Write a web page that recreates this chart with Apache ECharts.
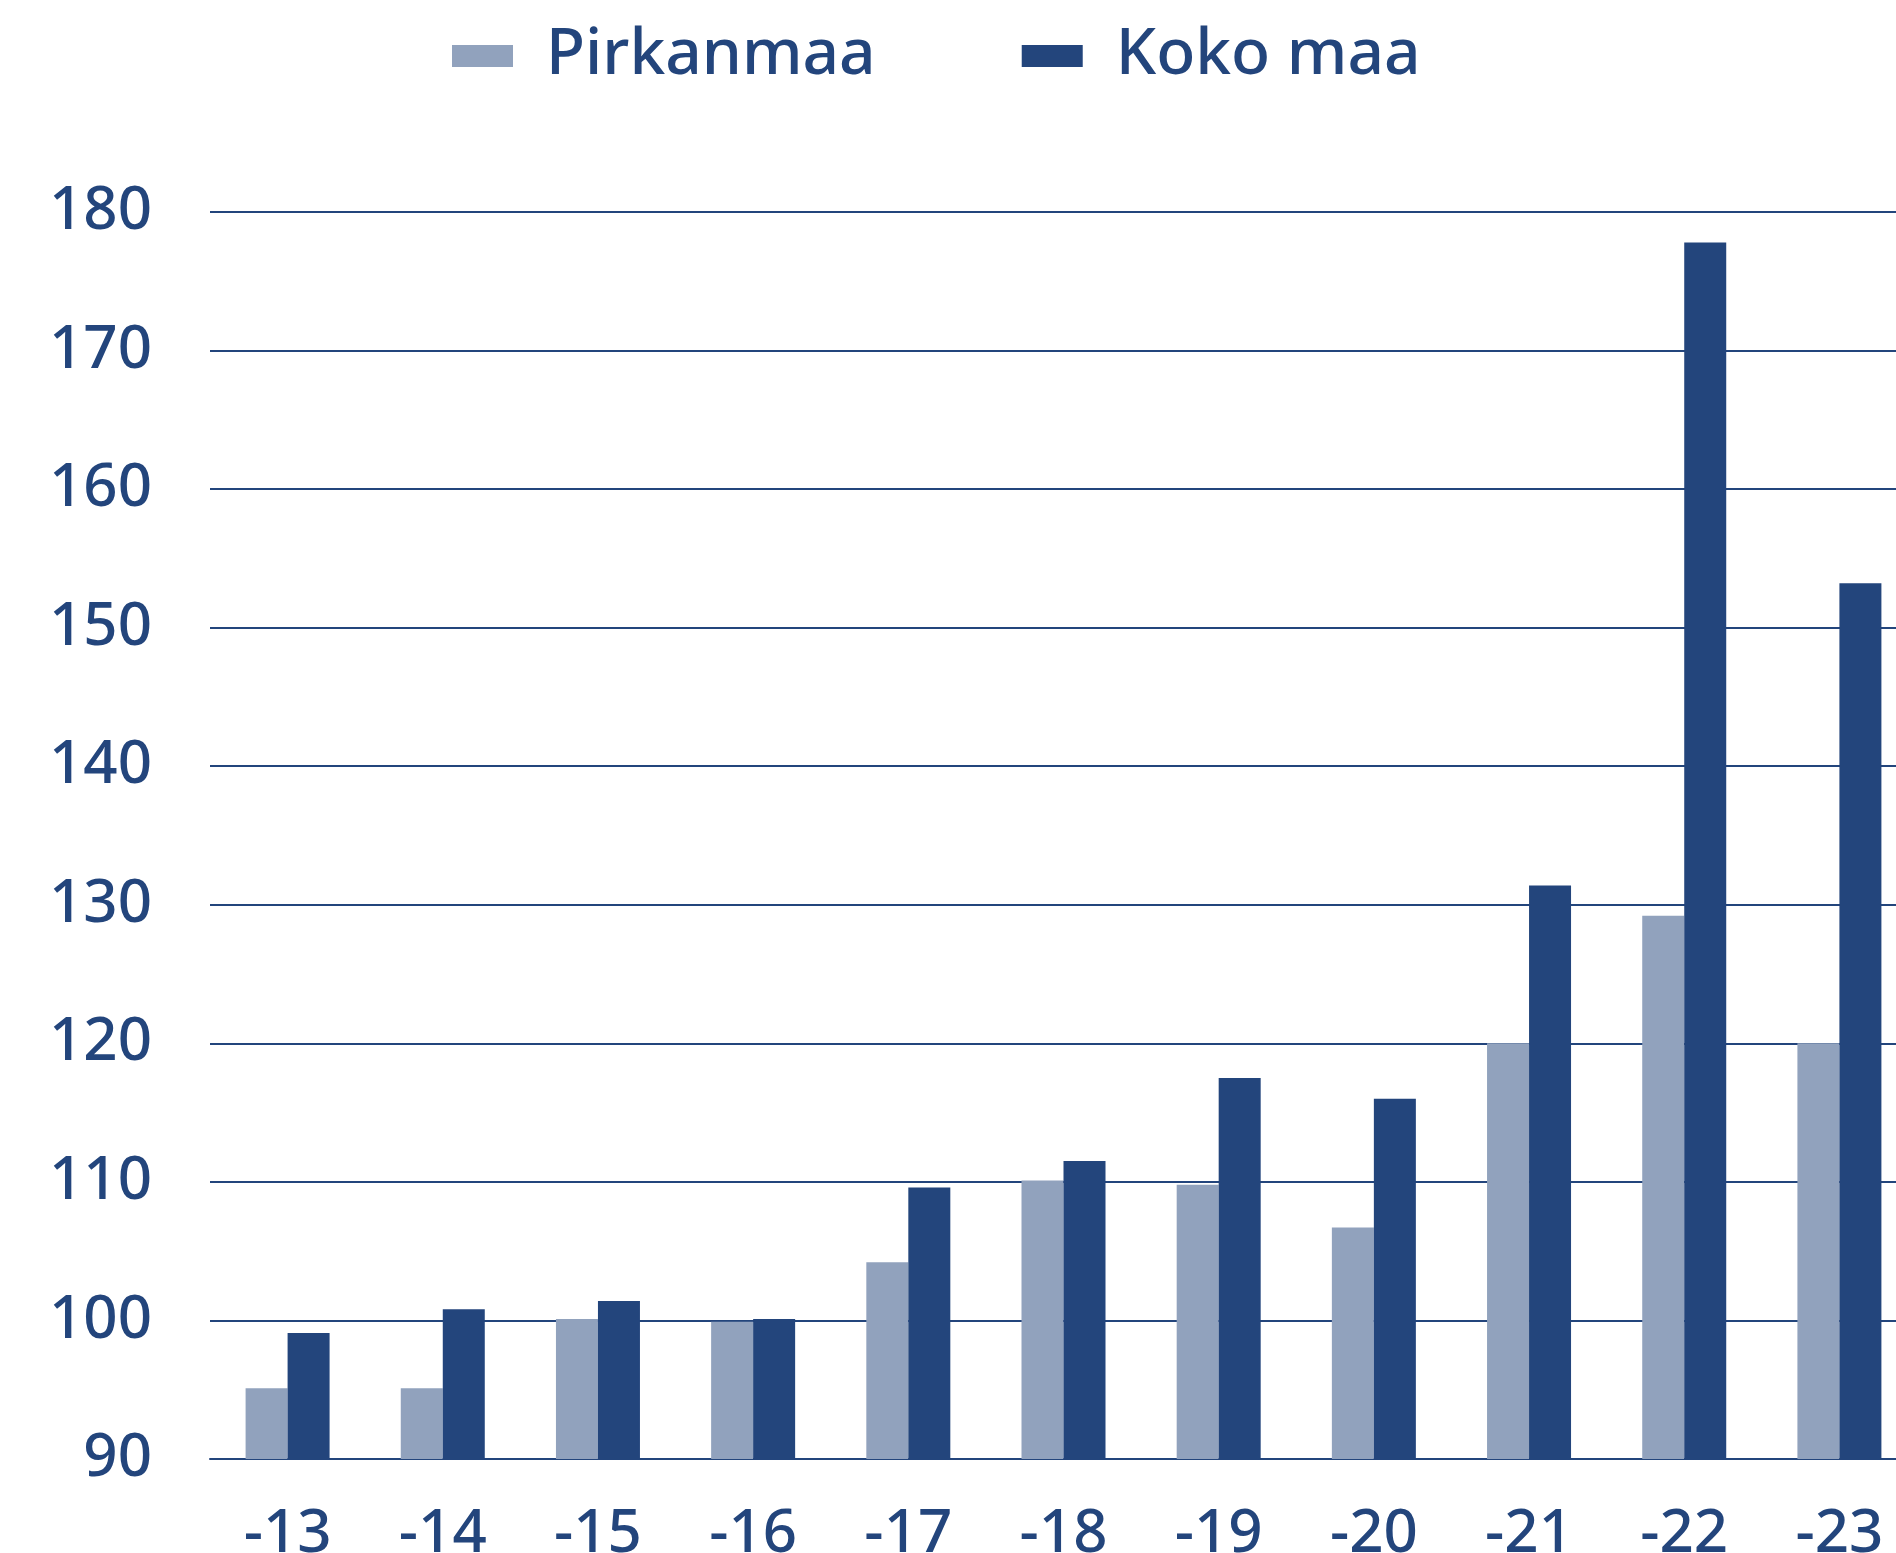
<!DOCTYPE html>
<html>
<head>
<meta charset="utf-8">
<script src="https://cdn.jsdelivr.net/npm/echarts@6/dist/echarts.min.js"></script>
<style>
html,body{margin:0;padding:0;background:#fff;}
#chart{width:1896px;height:1553px;}
</style>
</head>
<body>
<div id="chart"></div>
<script>
const categories = ['-13','-14','-15','-16','-17','-18','-19','-20','-21','-22','-23'];
const pirkanmaa = [95.1, 95.1, 100.1, 99.9, 104.2, 110.1, 109.8, 106.7, 120.0, 129.2, 120.0];
const kokoMaa   = [99.1, 100.8, 101.4, 100.1, 109.6, 111.5, 117.5, 116.0, 131.4, 177.8, 153.2];
const seriesNames = ['Pirkanmaa', 'Koko maa'];
const yMin = 90, yMax = 180, yStep = 10;

const DARK = '#23457c';
const LIGHT = '#91a2bd';
const FONT = "'Noto Sans', 'Open Sans', sans-serif";

const chart = echarts.init(document.getElementById('chart'), null, {renderer: 'canvas'});
chart.setOption({
  animation: false,
  backgroundColor: '#ffffff',
  legend: {
    left: 447,
    top: 15,
    icon: 'rect',
    itemWidth: 61,
    itemHeight: 22,
    itemGap: 146,
    data: seriesNames,
    textStyle: {
      fontFamily: FONT,
      fontSize: 64,
      fontWeight: 500,
      color: DARK,
      lineHeight: 72,
      padding: [0, 0, 0, 28]
    }
  },
  grid: {
    left: 210,
    top: 212,
    width: 1707,
    height: 1247,
    containLabel: false,
    outerBoundsMode: 'none'
  },
  xAxis: {
    type: 'category',
    data: categories,
    boundaryGap: true,
    axisTick: {show: false},
    axisLine: {show: true, lineStyle: {color: DARK, width: 2}},
    axisLabel: {
      margin: 46,
      fontFamily: FONT,
      fontSize: 60,
      fontWeight: 500,
      color: DARK
    },
    splitLine: {show: false}
  },
  yAxis: {
    type: 'value',
    min: yMin,
    max: yMax,
    interval: yStep,
    axisLine: {show: false},
    axisTick: {show: false},
    axisLabel: {
      margin: 58,
      fontFamily: FONT,
      fontSize: 60,
      fontWeight: 500,
      color: DARK
    },
    splitLine: {show: true, lineStyle: {color: DARK, width: 2}}
  },
  series: [
    {
      name: seriesNames[0],
      type: 'bar',
      data: pirkanmaa,
      barWidth: 42,
      barGap: '0%',
      itemStyle: {color: LIGHT},
      z: 3
    },
    {
      name: seriesNames[1],
      type: 'bar',
      data: kokoMaa,
      barWidth: 42,
      barGap: '0%',
      itemStyle: {color: DARK},
      z: 3
    }
  ]
});
</script>
</body>
</html>
